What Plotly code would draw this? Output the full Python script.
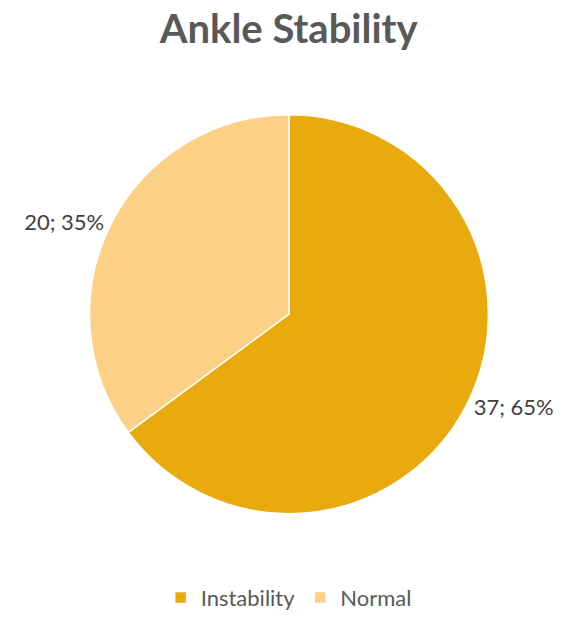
import plotly.graph_objects as go

# Ankle stability outcome counts
categories = ["Instability", "Normal"]
counts = [37, 20]
slice_colors = ["#E8AA0C", "#FCD186"]

total = sum(counts)
label_text = [f"{c}; {round(c / total * 100)}%" for c in counts]

fig = go.Figure(
    go.Pie(
        labels=categories,
        values=counts,
        text=label_text,
        textinfo="text",
        textposition="outside",
        sort=False,
        direction="clockwise",
        rotation=0,
        marker=dict(colors=slice_colors, line=dict(color="#FFFFFF", width=1.5)),
        textfont=dict(family="Lato", size=22, color="#404040"),
        domain=dict(x=[0.153, 0.868], y=[0.158, 0.812]),
        hoverinfo="label+value+percent",
    )
)

fig.update_layout(
    width=566,
    height=619,
    margin=dict(l=0, r=0, t=0, b=0),
    paper_bgcolor="#FFFFFF",
    plot_bgcolor="#FFFFFF",
    title=dict(
        text="<b>Ankle Stability</b>",
        x=0.51,
        xanchor="center",
        y=0.953,
        yanchor="middle",
        font=dict(family="Lato", size=40, color="#595959"),
    ),
    legend=dict(
        orientation="h",
        x=0.51,
        xanchor="center",
        y=0.02,
        yanchor="middle",
        font=dict(family="Lato", size=22, color="#595959"),
        itemwidth=30,
    ),
    showlegend=True,
)

fig.write_html("out.html")
